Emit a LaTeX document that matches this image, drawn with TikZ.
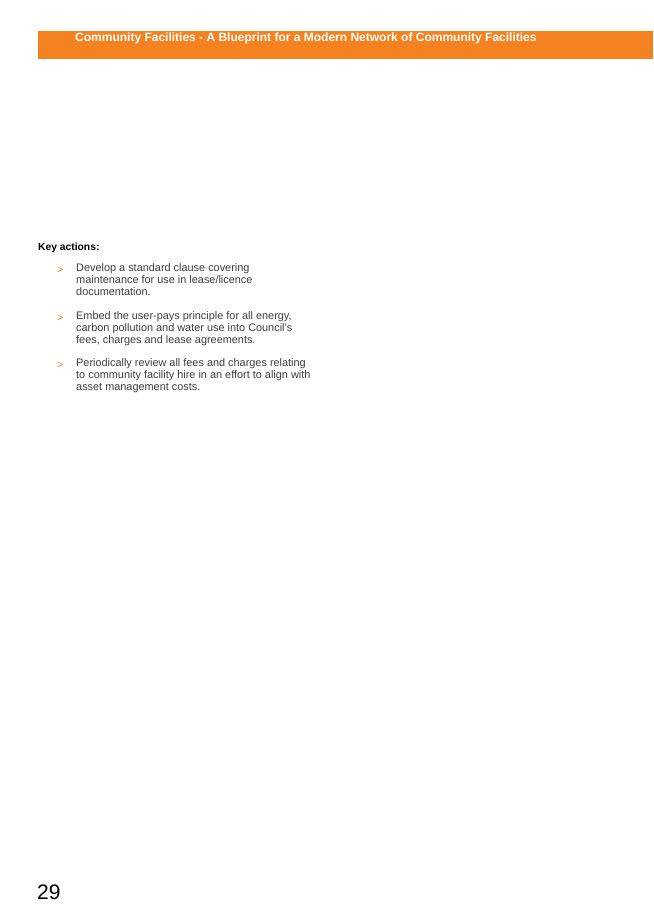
\documentclass[tikz,border=0pt]{standalone}
\usepackage{fontspec}
\setmainfont{Liberation Sans}
\usetikzlibrary{positioning}
\definecolor{bannerorange}{RGB}{245,130,32}
\definecolor{bodygrey}{RGB}{60,60,60}

\tikzset{
    bodytext/.style={anchor=west, inner sep=0pt, font=\fontsize{10.9}{12}\selectfont, text=bodygrey, align=left},
    bullet/.style={anchor=west, inner sep=0pt, font=\fontsize{10.9}{12}\selectfont, text=bannerorange}
}

\begin{document}
\begin{tikzpicture}[x=1pt,y=-1pt]
\useasboundingbox (0,0) rectangle (653,923);

% banner
\fill[bannerorange] (38,31) rectangle (653,59);
\node[anchor=west, inner sep=0pt, text=white, font=\bfseries\fontsize{12}{14}\selectfont] (title) at (75,38) {Community Facilities - A Blueprint for a Modern Network of Community Facilities};

\node[anchor=west, inner sep=0pt, font=\bfseries\fontsize{10.3}{12}\selectfont] (keyhead) at (38,248) {Key actions:};

\node[bullet] (b1) at (57,270) {>};
\node[bodytext, anchor=north west] (a1) at (76,263) {Develop a standard clause covering\\maintenance for use in lease/licence\\documentation.};

\node[bullet] (b2) at (57,318) {>};
\node[bodytext, anchor=north west] (a2) at (76,311) {Embed the user-pays principle for all energy,\\carbon pollution and water use into Council's\\fees, charges and lease agreements.};

\node[bullet] (b3) at (57,365) {>};
\node[bodytext, anchor=north west] (a3) at (76,358) {Periodically review all fees and charges relating\\to community facility hire in an effort to align with\\asset management costs.};

\node[anchor=west, inner sep=0pt, font=\fontsize{21}{24}\selectfont] (pagenum) at (37,892) {29};
\end{tikzpicture}
\end{document}
